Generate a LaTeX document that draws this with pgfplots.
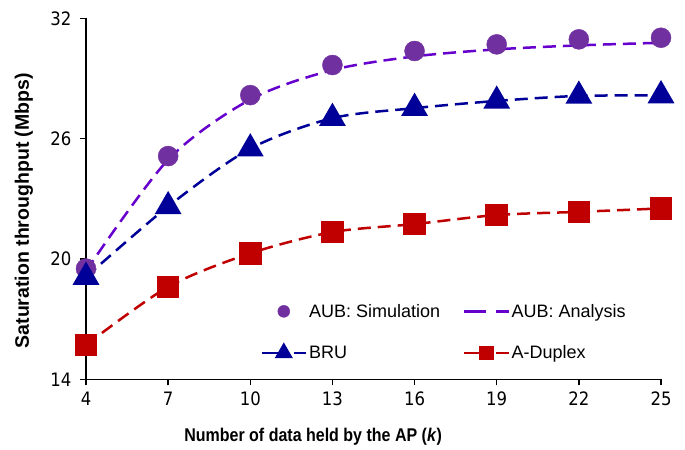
\documentclass[border=0pt]{standalone}
\usepackage{graphicx}
\usepackage{pgfplots}
\pgfplotsset{compat=1.18}
\usepackage{fontspec}
\setmainfont{Liberation Sans}
\newfontfamily\tickfont{DejaVu Sans}
\definecolor{simc}{HTML}{7030A0}
\definecolor{anac}{HTML}{6600CC}
\definecolor{bruc}{HTML}{000099}
\definecolor{dupc}{HTML}{C00000}
\begin{document}
\begin{tikzpicture}
\begin{axis}[name=ax,
  scale only axis, width=575pt, height=361pt,
  xmin=4, xmax=25, ymin=14, ymax=32,
  xtick={4,7,10,13,16,19,22,25}, ytick={14,20,26,32},
  axis x line*=bottom, axis y line*=left,
  axis line style={line width=1.5pt, black},
  tick style={line width=1.5pt, black},
  tick align=outside, major tick length=6pt,
  /pgf/number format/assume math mode=true,
  tick label style={font=\fontsize{16.5}{19}\tickfont},
  xticklabel={\scalebox{1}[1.12]{\pgfmathprintnumber{\tick}}},
  yticklabel={\scalebox{1}[1.12]{\pgfmathprintnumber{\tick}}},
  yticklabel style={xshift=-5pt},
  xticklabel style={yshift=-3pt},
  xlabel={\scalebox{1}[1.15]{Number of data held by the AP (\textit{k})}},
  ylabel={Saturation throughput (Mbps)},
  xlabel style={font=\fontsize{16}{19}\selectfont\bfseries, at={(axis description cs:0.395,-0.16)}, anchor=center},
  ylabel style={font=\fontsize{19.5}{22}\selectfont\bfseries, at={(axis description cs:-0.108,0.467)}, anchor=center},
  legend columns=2,
  legend cell align=left,
  legend style={at={(0.298,0.22)}, anchor=north west, draw=none, fill=none,
    font=\fontsize{18}{21}\selectfont, row sep=23pt,
    /tikz/every even column/.append style={column sep=21pt}},
  legend image code/.code={\draw[mark repeat=2,mark phase=2,#1] plot coordinates {(0pt,0pt)(22pt,0pt)(44pt,0pt)};},
]
\addplot[only marks, mark=*, mark size=10pt, color=simc, legend image post style={mark size=6pt}]
  coordinates {(4,19.52)(7,25.13)(10,28.17)(13,29.67)(16,30.37)(19,30.70)(22,30.95)(25,31.03)};
\addlegendentry{AUB: Simulation}
\addplot[smooth, no marks, color=anac, line width=2.5pt, dash pattern=on 13pt off 7pt, legend image post style={dash pattern=on 22pt off 10pt}]
  coordinates {(4,19.4)(7,24.95)(10,27.95)(13,29.42)(16,30.10)(19,30.45)(22,30.65)(25,30.78)};
\addlegendentry{AUB: Analysis}
\addplot[smooth, color=bruc, line width=2.5pt, dash pattern=on 13pt off 7pt, mark=triangle*, mark size=13pt, mark options={solid}, legend image post style={mark size=8pt, dash pattern=on 22pt off 10pt}]
  coordinates {(4,19.1)(7,22.62)(10,25.5)(13,27.02)(16,27.52)(19,27.88)(22,28.13)(25,28.15)};
\addlegendentry{BRU}
\addplot[smooth, color=dupc, line width=2.5pt, dash pattern=on 13pt off 7pt, mark=square*, mark size=10pt, mark options={solid}, legend image post style={mark size=6pt, dash pattern=on 22pt off 10pt}]
  coordinates {(4,15.71)(7,18.61)(10,20.28)(13,21.34)(16,21.74)(19,22.19)(22,22.35)(25,22.52)};
\addlegendentry{A-Duplex}
\end{axis}
\pgfresetboundingbox
\path ([xshift=-86pt,yshift=-70pt]ax.south west) rectangle ([xshift=24pt,yshift=18.3pt]ax.north east);
\end{tikzpicture}
\end{document}
